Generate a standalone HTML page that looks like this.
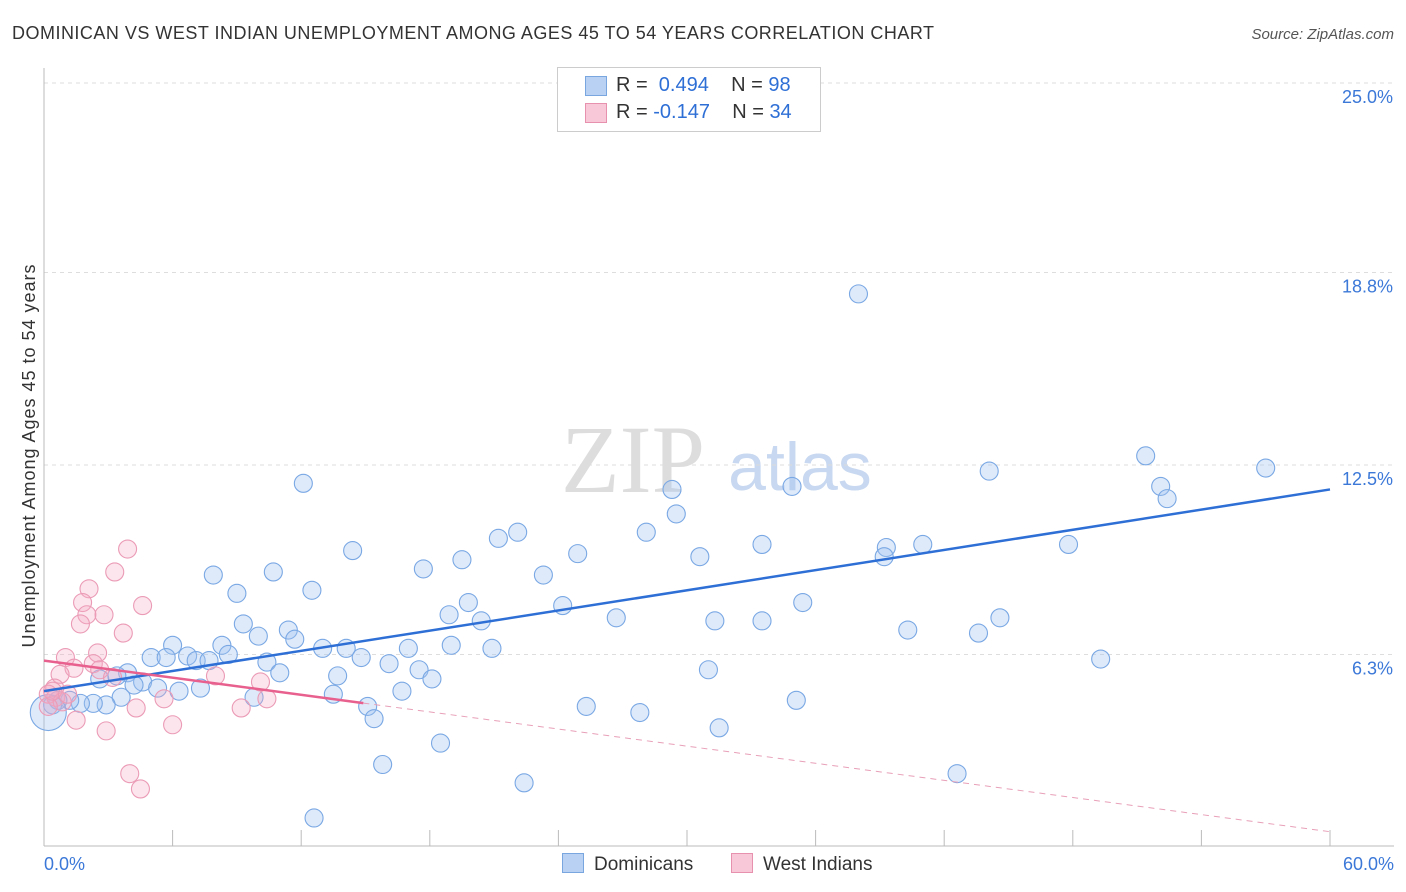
<!DOCTYPE html>
<html><head><meta charset="utf-8"><style>
body{margin:0;background:#fff;font-family:"Liberation Sans",sans-serif}
#c{position:relative;width:1406px;height:892px;overflow:hidden}
</style></head><body>
<div id="c">
<svg id="s" width="1406" height="892">
<text x="12" y="39" font-size="18" fill="#333" textLength="922" lengthAdjust="spacing">DOMINICAN VS WEST INDIAN UNEMPLOYMENT AMONG AGES 45 TO 54 YEARS CORRELATION CHART</text>
<text x="1394" y="39" font-size="15" fill="#555" font-style="italic" text-anchor="end">Source: ZipAtlas.com</text>
<text x="35" y="456" font-size="18" fill="#333" text-anchor="middle" textLength="383" lengthAdjust="spacing" transform="rotate(-90 35 456)">Unemployment Among Ages 45 to 54 years</text>
<text x="633" y="492" font-size="96" fill="#ddd" font-family="Liberation Serif,serif" text-anchor="middle">ZIP</text>
<text x="800" y="490" font-size="68" fill="#c8d8f0" text-anchor="middle">atlas</text>
<g id="grid"></g><g id="pts"></g><g id="lines"></g>
</svg>
<div style="position:absolute;left:557px;top:67px;width:262px;height:63px;border:1px solid #ccc;background:#fff;font-size:20px">
<div style="position:absolute;left:27px;top:8px;width:20px;height:18px;background:#b9d2f3;border:1px solid #7aa6e0"></div>
<div style="position:absolute;left:58px;top:6px;color:#333">R = <span style="color:#2e6fd6">&nbsp;0.494</span>&nbsp;&nbsp;&nbsp;&nbsp;N = <span style="color:#2e6fd6">98</span></div>
<div style="position:absolute;left:27px;top:35px;width:20px;height:18px;background:#f8c8d8;border:1px solid #e891ae"></div>
<div style="position:absolute;left:58px;top:33px;color:#333">R = <span style="color:#2e6fd6">-0.147</span>&nbsp;&nbsp;&nbsp;&nbsp;N = <span style="color:#2e6fd6">34</span></div>
</div>
<div style="position:absolute;left:562px;top:853px;font-size:19px;color:#333"><span style="display:inline-block;width:20px;height:18px;background:#b9d2f3;border:1px solid #7aa6e0;vertical-align:-3px;margin-right:10px"></span>Dominicans</div>
<div style="position:absolute;left:731px;top:853px;font-size:19px;color:#333"><span style="display:inline-block;width:20px;height:18px;background:#f8c8d8;border:1px solid #e891ae;vertical-align:-3px;margin-right:10px"></span>West Indians</div>
</div>
<script>
const yTicks=[25.0,18.8,12.5,6.3];
const yTickLabels=["25.0%","18.8%","12.5%","6.3%"];
const xLabels=["0.0%","60.0%"];
const blueX=[38.0,51.4,57.0,44.1,52.1,52.4,12.1,29.3,34.9,22.1,21.2,29.5,28.1,33.5,41.0,47.8,39.3,39.2,30.6,24.9,14.4,19.5,17.7,23.3,7.9,10.7,12.5,9.0,35.4,24.2,19.8,18.9,26.7,44.6,31.3,33.5,20.4,9.3,11.4,10.0,11.7,40.3,43.6,19.0,8.3,6.0,13.0,14.1,17.0,20.9,5.0,5.7,6.7,8.6,7.1,7.7,14.8,10.4,49.3,16.1,13.7,17.5,11.0,31.0,18.1,3.9,2.6,3.4,4.6,4.2,5.3,6.3,7.3,16.7,13.5,3.6,9.8,35.1,25.3,15.1,27.8,2.9,2.3,1.7,1.2,0.65,0.4,15.4,31.5,18.5,15.8,42.6,22.4,12.6,0.2];
const blueY=[18.1,12.8,12.4,12.3,11.8,11.4,11.9,11.7,11.8,10.3,10.1,10.9,10.3,9.9,9.9,9.9,9.8,9.5,9.5,9.6,9.7,9.4,9.1,8.9,8.9,9.0,8.4,8.3,8.0,7.9,8.0,7.6,7.5,7.5,7.4,7.4,7.4,7.3,7.1,6.9,6.8,7.1,7.0,6.6,6.6,6.6,6.5,6.5,6.5,6.5,6.2,6.2,6.25,6.3,6.1,6.1,6.2,6.05,6.15,6.0,5.6,5.8,5.7,5.8,5.5,5.7,5.5,5.6,5.4,5.3,5.2,5.1,5.2,5.1,5.0,4.9,4.9,4.8,4.6,4.6,4.4,4.65,4.7,4.7,4.8,4.8,4.65,4.2,3.9,3.4,2.7,2.4,2.1,0.95,4.4];
const pinkX=[3.9,3.3,2.1,4.6,1.8,2.8,2.0,1.7,3.7,1.0,2.5,1.4,2.3,2.6,3.2,0.75,8.0,10.1,0.5,0.2,0.55,0.85,5.6,10.4,9.2,4.3,1.5,6.0,2.9,4.0,4.5,0.2,0.4,1.1];
const pinkY=[9.75,9.0,8.45,7.9,8.0,7.6,7.6,7.3,7.0,6.2,6.35,5.85,6.0,5.8,5.55,5.65,5.6,5.4,5.2,5.0,4.9,4.75,4.85,4.85,4.55,4.55,4.15,4.0,3.8,2.4,1.9,4.6,5.1,5.0];
const blueTrend=[5.1,11.7];
const pinkTrend=[6.1,0.5];
const pinkSolidEnd=14.9;
const X=v=>44+v/60*1286, Y=v=>847-v*764/25;
const NS="http://www.w3.org/2000/svg";
function mk(t,a,p){const e=document.createElementNS(NS,t);for(const k in a)e.setAttribute(k,a[k]);p.appendChild(e);return e;}
const g=document.getElementById('grid');
yTicks.forEach((t,i)=>{
 const l=mk('line',{x1:44,x2:1394,y1:Y(t),y2:Y(t),stroke:'#ddd','stroke-dasharray':'4,4'},g);
 
 
 const tx=mk('text',{x:1393,y:Y(t)+20,'font-size':18,fill:'#3b78d8','text-anchor':'end'},g);
 tx.textContent=yTickLabels[i];
 
 
});
const ax=mk('line',{x1:44,x2:44,y1:68,y2:846,stroke:'#bbb'},g);


const bx=mk('line',{x1:44,x2:1394,y1:846,y2:846,stroke:'#bbb'},g);


for(let i=0;i<=10;i++){const tk=mk('line',{x1:X(i*6),x2:X(i*6),y1:830,y2:846,stroke:'#bbb'},g);
 
 }
[[0,'start',44],[1,'end',1394]].forEach(([i,a,x])=>{const t=mk('text',{x:x,y:870,'font-size':18,fill:'#3b78d8','text-anchor':a},g);t.textContent=xLabels[i];
 
 });
const p=document.getElementById('pts');
blueX.forEach((v,i)=>{const c=mk('circle',{cx:X(v),cy:Y(blueY[i]),r:i==blueX.length-1?18:9,fill:'rgba(160,196,240,0.35)',stroke:'#7aa8e4','stroke-width':1.1},p);
 
 });
pinkX.forEach((v,i)=>{const c=mk('circle',{cx:X(v),cy:Y(pinkY[i]),r:9,fill:'rgba(244,170,195,0.3)',stroke:'#eb9bb6','stroke-width':1.1},p);
 
 });
const L=document.getElementById('lines');
const bl=mk('line',{x1:X(0),y1:Y(blueTrend[0]),x2:X(60),y2:Y(blueTrend[1]),stroke:'#2e6fd6','stroke-width':2.5},L);


const py=x=>pinkTrend[0]+(pinkTrend[1]-pinkTrend[0])*x/60;
const pl=mk('line',{x1:X(0),y1:Y(pinkTrend[0]),x2:X(pinkSolidEnd),y2:Y(py(pinkSolidEnd)),stroke:'#e8608e','stroke-width':2.5},L);


const pd=mk('line',{x1:X(pinkSolidEnd),y1:Y(py(pinkSolidEnd)),x2:X(60),y2:Y(pinkTrend[1]),stroke:'#e8a0b8','stroke-width':1,'stroke-dasharray':'6,5'},L);


</script>
</body></html>
